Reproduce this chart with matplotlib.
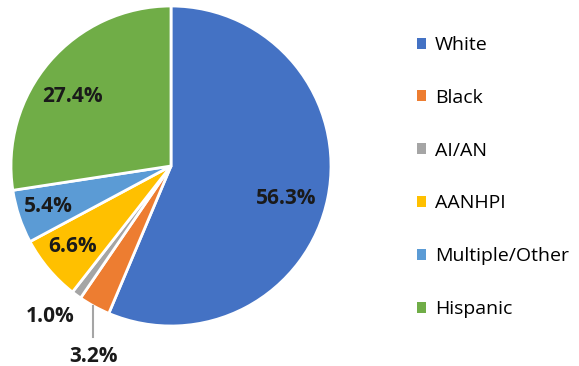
import matplotlib
matplotlib.use("Agg")
import matplotlib.pyplot as plt
import numpy as np
from matplotlib.patches import Patch

categories = ["White", "Black", "AI/AN", "AANHPI", "Multiple/Other", "Hispanic"]
values = [56.3, 3.2, 1.0, 6.6, 5.4, 27.4]
labels = ["56.3%", "3.2%", "1.0%", "6.6%", "5.4%", "27.4%"]
colors = ["#4472C4", "#ED7D31", "#A5A5A5", "#FFC000", "#5B9BD5", "#70AD47"]

plt.rcParams['font.family'] = ['Open Sans', 'DejaVu Sans']

W, H = 579, 366
CX, CY, R = 171, 166, 160  # pie centre / radius in pixels (layout only)

fig = plt.figure(figsize=(W/100, H/100), dpi=100)
ax = fig.add_axes([(CX-R)/W, (H-CY-R)/H, 2*R/W, 2*R/H])
wedges, _ = ax.pie(values, colors=colors, startangle=90, counterclock=False,
                   radius=1, wedgeprops=dict(edgecolor="white", linewidth=2))
ax.set_xlim(-1, 1)
ax.set_ylim(-1, 1)
ax.set_aspect("equal")
ax.axis("off")

LFS = 15
# label anchor positions in pixels of the picture (layout only)
label_px = [(286, 199), (94, 356), (50, 316), (73, 247), (48, 206), (72, 96)]
for lab, (px, py) in zip(labels, label_px):
    ax.text((px-CX)/R, (CY-py)/R, lab, ha="center", va="center",
            fontsize=LFS, fontweight="bold", color="#1a1a1a", clip_on=False)

# leader line for the small Black slice
x0 = (93-CX)/R
ax.plot([x0, x0], [-np.sqrt(1 - x0**2), (CY-337)/R], color="#A5A5A5", lw=1.5,
        clip_on=False)

handles = [Patch(facecolor=c, edgecolor="none") for c in colors]
leg = fig.legend(handles, categories, loc="upper left",
                 bbox_to_anchor=(399/W, 1 - 18.5/H), frameon=False,
                 fontsize=14, handlelength=0.5, handleheight=0.5,
                 handletextpad=0.45, labelspacing=1.79)
fig.savefig("out.png", dpi=100)
